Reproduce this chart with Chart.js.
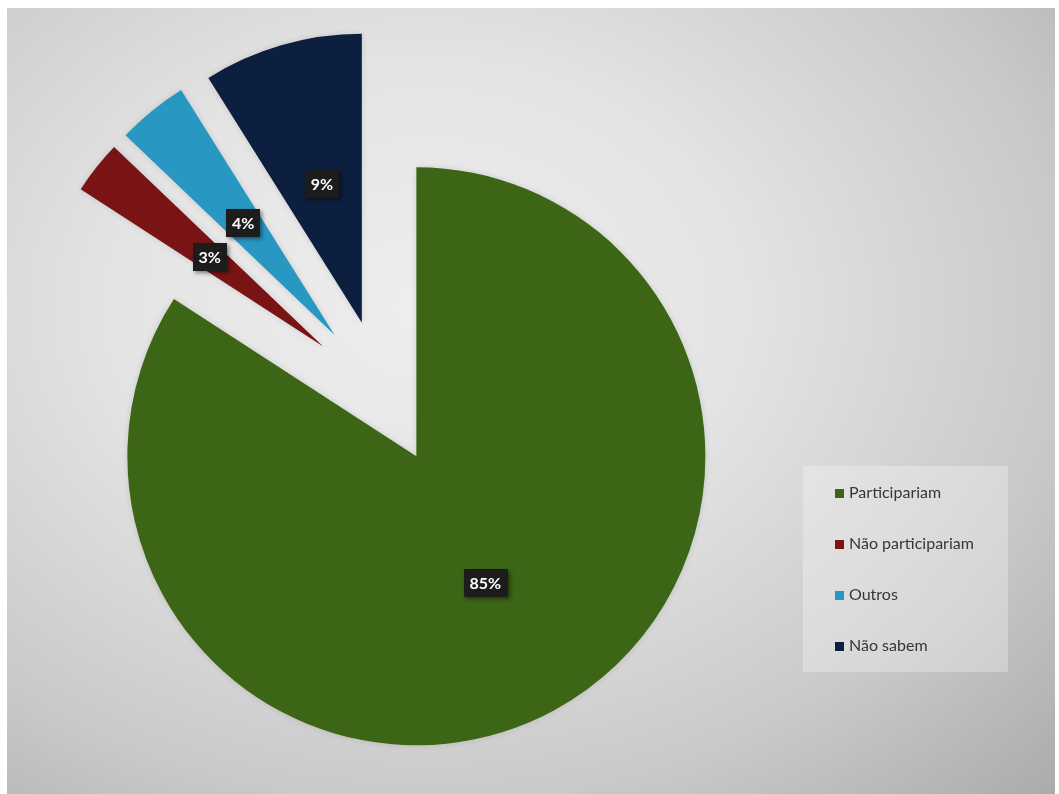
<!DOCTYPE html>
<html>
<head>
<meta charset="utf-8">
<script src="https://cdn.jsdelivr.net/npm/chart.js@4.4.1/dist/chart.umd.min.js"></script>
<style>
  html, body { margin: 0; padding: 0; background: #ffffff; }
  #wrap { position: relative; width: 1059px; height: 794px; overflow: hidden; }
  #bg {
    position: absolute; left: 7px; top: 8px; width: 1048px; height: 786px;
    background: radial-gradient(ellipse farthest-corner at 40% 38%, #eeeeee 0%, #e4e4e4 35%, #c9c9c9 72%, #ababab 100%);
  }
  #pie { position: absolute; left: 0; top: 0; }
  #legend {
    position: absolute; left: 803px; top: 466px; width: 205px; height: 206px;
    background: rgba(255, 255, 255, 0.28);
    font-family: Lato, "Open Sans", sans-serif; font-size: 16px; color: #363636;
  }
  #legend .row { position: absolute; left: 32px; height: 20px; line-height: 20px; white-space: nowrap; }
  #legend .box { display: inline-block; width: 9px; height: 9px; margin-right: 5px; vertical-align: 0px; }
</style>
</head>
<body>
<div id="wrap">
  <div id="bg"></div>
  <canvas id="pie" width="1059" height="794"></canvas>
  <div id="legend"></div>
</div>
<script>
const labels = ['Participariam', 'Não participariam', 'Outros', 'Não sabem'];
const values = [85, 3, 4, 9];
const colors = ['#3d6516', '#7a1313', '#2898c3', '#0d1f3e'];
const explode = [72, 75, 75, 73];

// legend rows
const legend = document.getElementById('legend');
labels.forEach((name, i) => {
  const row = document.createElement('div');
  row.className = 'row';
  row.style.top = (16 + i * 51) + 'px';
  row.innerHTML = '<span class="box" style="background:' + colors[i] + '"></span>' + name;
  legend.appendChild(row);
});

// draws each slice pushed out along its middle angle
const explodePlugin = {
  id: 'explode',
  beforeDatasetDraw(chart, args) {
    const ctx = chart.ctx;
    args.meta.data.forEach((arc, i) => {
      const mid = (arc.startAngle + arc.endAngle) / 2;
      ctx.save();
      ctx.shadowColor = 'rgba(0,0,0,0.12)';
      ctx.shadowBlur = 6;
      ctx.translate(Math.cos(mid) * explode[i], Math.sin(mid) * explode[i]);
      arc.draw(ctx, chart.chartArea);
      ctx.restore();
    });
    return false;
  },
  afterDatasetsDraw(chart) {
    const ctx = chart.ctx;
    const meta = chart.getDatasetMeta(0);
    ctx.save();
    ctx.font = 'bold 16px Lato, "Open Sans", sans-serif';
    ctx.textAlign = 'center';
    ctx.textBaseline = 'middle';
    meta.data.forEach((arc, i) => {
      const mid = (arc.startAngle + arc.endAngle) / 2;
      const p = arc.tooltipPosition();
      const x = p.x + Math.cos(mid) * explode[i];
      const y = p.y + Math.sin(mid) * explode[i];
      const text = values[i] + '%';
      const w = ctx.measureText(text).width + 12;
      const h = 28;
      ctx.shadowColor = 'rgba(0,0,0,0.45)';
      ctx.shadowBlur = 4;
      ctx.shadowOffsetX = 2;
      ctx.shadowOffsetY = 2;
      ctx.fillStyle = '#1c1c1c';
      ctx.fillRect(Math.round(x - w / 2), Math.round(y - h / 2), Math.round(w), h);
      ctx.shadowColor = 'transparent';
      ctx.fillStyle = '#ffffff';
      ctx.fillText(text, x, y + 1);
    });
    ctx.restore();
  }
};

new Chart(document.getElementById('pie'), {
  type: 'pie',
  data: {
    labels: labels,
    datasets: [{
      data: values,
      backgroundColor: colors,
      borderWidth: 0
    }]
  },
  options: {
    responsive: false,
    animation: false,
    events: [],
    radius: 289,
    layout: { padding: { left: 0, top: 0, right: 295, bottom: 8 } },
    plugins: {
      legend: { display: false },
      tooltip: { enabled: false }
    }
  },
  plugins: [explodePlugin]
});
</script>
</body>
</html>
